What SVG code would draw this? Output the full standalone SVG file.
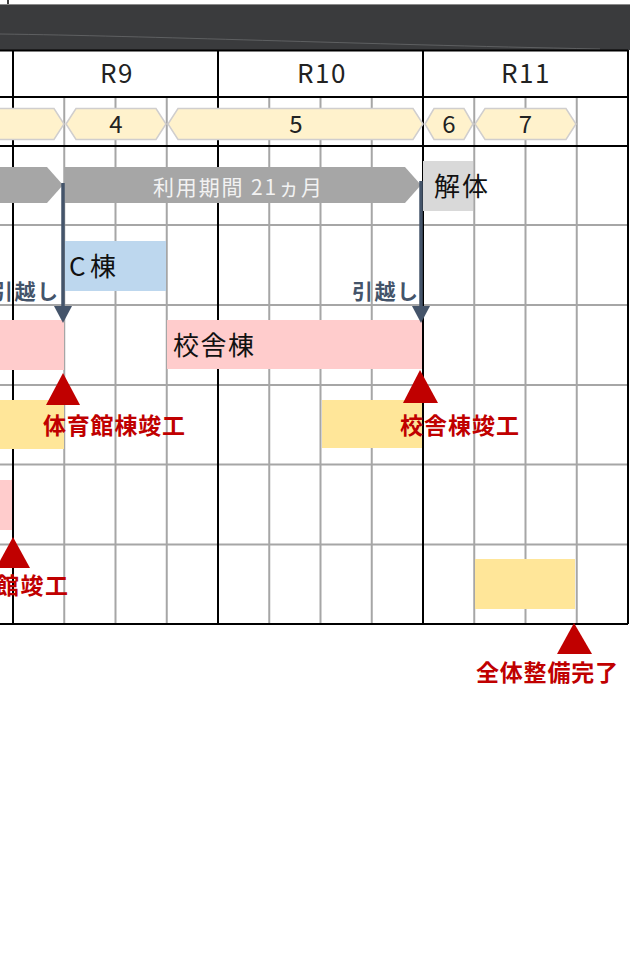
<svg xmlns="http://www.w3.org/2000/svg" width="630" height="954" viewBox="0 0 630 954">
<defs>
<style>
.jp{font-family:"Noto Sans CJK JP","Noto Sans",sans-serif}
.grid{stroke:#a6a6a6;stroke-width:2;fill:none}
.blk{stroke:#000;stroke-width:2;fill:none}
.hex{fill:#fff2cc;stroke:#d0cece;stroke-width:1.5}
.num{font-size:24px;fill:#222;text-anchor:middle}
.yr{font-size:26px;fill:#222;text-anchor:middle;letter-spacing:1.5px}
.red{font-size:23px;font-weight:bold;fill:#c00000}
.mv{font-size:21px;font-weight:bold;fill:#44546a}
.lbl{font-size:26px;fill:#111}
.tri{fill:#c00000}
.arr{stroke:#44546a;stroke-width:3.5;fill:none}
</style>
</defs>
<rect width="630" height="954" fill="#fff"/>
<g id="title-band">
<line x1="8" y1="0" x2="8" y2="5" stroke="#000" stroke-width="1.5"/>
<line x1="0" y1="4.5" x2="630" y2="4.5" stroke="#8a8a8a" stroke-width="1"/>
<rect x="0" y="5" width="630" height="45" fill="#3a3b3d"/>
<path d="M0,34 C150,36 350,44 600,49" stroke="#77787a" stroke-width="1" fill="none" opacity="0.6"/>
</g>
<g id="grid">
<g class="grid">
<path d="M64.25,97V624M115.5,97V624M166.75,97V624M269.25,97V624M320.5,97V624M371.75,97V624M474.25,97V624M525.5,97V624M576.75,97V624"/>
<path d="M0,225H628M0,305H628M0,385H628M0,464.5H628M0,544.5H628"/>
</g>
<g class="blk">
<path d="M0,50.5H628M0,97H628M0,146H628M0,624H628"/>
<path d="M13,50V624M218,50V624M423,50V624M628,50V624"/>
</g>
</g>
<g id="years" class="jp">
<text class="yr" x="117" y="83">R9</text>
<text class="yr" x="322" y="83">R10</text>
<text class="yr" x="526" y="83">R11</text>
</g>
<g id="phase-3">
<path class="hex" d="M-5,108.5H54L64,124L54,139.5H-5Z"/>
</g>
<g id="phase-4" class="jp">
<path class="hex" d="M66,124L76,108.5H156L166,124L156,139.5H76Z"/>
<text class="num" x="116" y="133">4</text>
</g>
<g id="phase-5" class="jp">
<path class="hex" d="M168,124L178,108.5H413L423,124L413,139.5H178Z"/>
<text class="num" x="296" y="133">5</text>
</g>
<g id="phase-6" class="jp">
<path class="hex" d="M425,124L434,108.5H464L473,124L464,139.5H434Z"/>
<text class="num" x="449" y="133">6</text>
</g>
<g id="phase-7" class="jp">
<path class="hex" d="M475,124L485,108.5H566L576,124L566,139.5H485Z"/>
<text class="num" x="525.5" y="133">7</text>
</g>
<g id="bar-prev">
<path d="M-5,167H47L63,185L47,203H-5Z" fill="#a6a6a6"/>
</g>
<g id="bar-use" class="jp">
<path d="M64,167H405L421,185L405,203H64Z" fill="#a6a6a6"/>
<text x="153" y="195" font-size="21" fill="#f2f2f2" textLength="169" lengthAdjust="spacing">利用期間 21ヵ月</text>
</g>
<g id="demolish" class="jp">
<rect x="423" y="161" width="50" height="50" fill="#d9d9d9"/>
<text class="lbl" x="434" y="196" textLength="54" lengthAdjust="spacing">解体</text>
</g>
<g id="c-wing" class="jp">
<rect x="65" y="241" width="101" height="50" fill="#bdd7ee"/>
<text class="lbl" x="69" y="276" textLength="47" lengthAdjust="spacing">C棟</text>
</g>
<g id="bar-pink-1"><rect x="-5" y="320" width="69" height="50" fill="#ffcccc"/></g>
<g id="school-bldg" class="jp">
<rect x="167" y="320" width="255" height="49" fill="#ffcccc"/>
<text class="lbl" x="173" y="355" textLength="81" lengthAdjust="spacing">校舎棟</text>
</g>
<g id="bar-yellow-1"><rect x="-5" y="400" width="69" height="49" fill="#ffe699"/></g>
<g id="bar-yellow-2"><rect x="322" y="400" width="100" height="48" fill="#ffe699"/></g>
<g id="bar-pink-2"><rect x="-5" y="480" width="17" height="50" fill="#ffcccc"/></g>
<g id="bar-yellow-3"><rect x="475" y="559" width="100" height="50" fill="#ffe699"/></g>
<g id="connectors">
<line class="arr" x1="63" y1="183" x2="63" y2="307"/>
<path d="M54,306H72L63,323Z" fill="#44546a"/>
<line class="arr" x1="421" y1="181" x2="421" y2="307"/>
<path d="M412,306H430L421,323Z" fill="#44546a"/>
</g>
<g id="move-1" class="jp"><text class="mv" x="-8" y="299" textLength="66" lengthAdjust="spacing">引越し</text></g>
<g id="move-2" class="jp"><text class="mv" x="352" y="299" textLength="66" lengthAdjust="spacing">引越し</text></g>
<g id="ms-gym-wing" class="jp">
<path class="tri" d="M63,373L80,405H46Z"/>
<text class="red" x="43" y="434" textLength="142" lengthAdjust="spacing">体育館棟竣工</text>
</g>
<g id="ms-school" class="jp">
<path class="tri" d="M420,370L438,403H403Z"/>
<text class="red" x="400" y="434" textLength="119" lengthAdjust="spacing">校舎棟竣工</text>
</g>
<g id="ms-gym" class="jp">
<path class="tri" d="M13,537L30,568H-4Z"/>
<text class="red" x="-4" y="594" textLength="72" lengthAdjust="spacing">館竣工</text>
</g>
<g id="ms-complete" class="jp">
<path class="tri" d="M574,623L592,654H557Z"/>
<text class="red" x="476" y="681" textLength="142" lengthAdjust="spacing">全体整備完了</text>
</g>
</svg>
